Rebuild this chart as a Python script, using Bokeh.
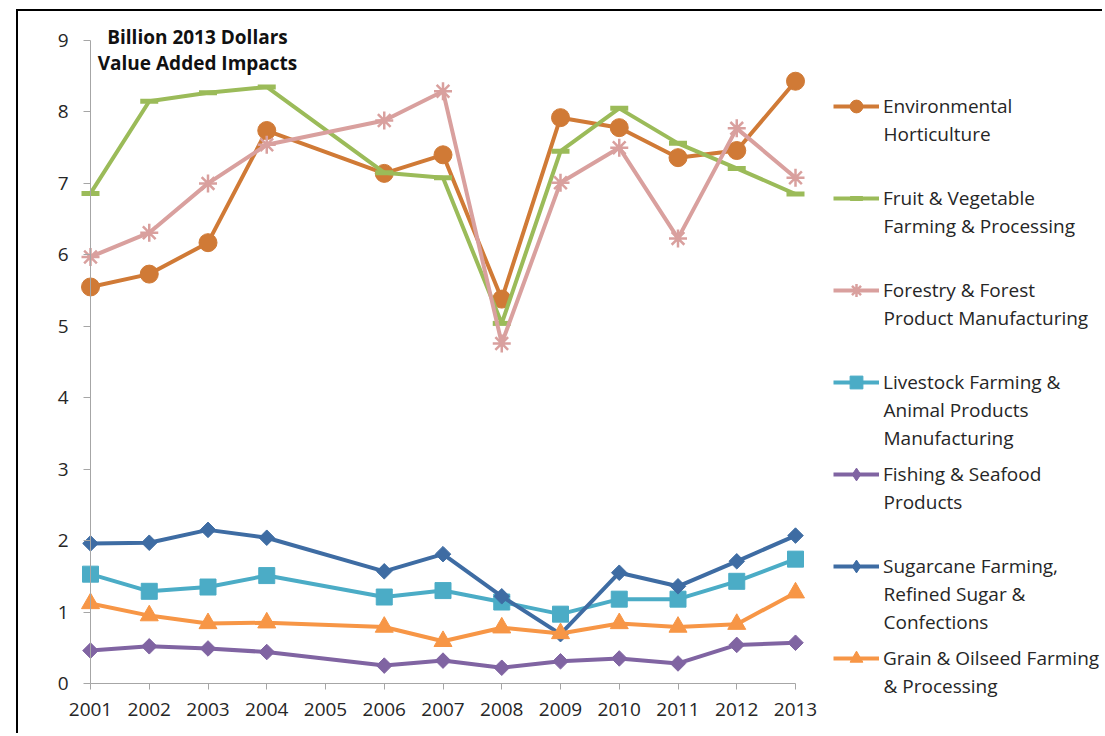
from bokeh.plotting import figure
from bokeh.models import Range1d, FixedTicker, Legend, LegendItem, Label, LinearAxis
from bokeh.embed import file_html
from bokeh.resources import INLINE

# ---------------- data ----------------
tick_years = [2001, 2002, 2003, 2004, 2005, 2006, 2007, 2008, 2009, 2010, 2011, 2012, 2013]
tick_labels = [str(y) for y in tick_years]
y_ticks = [0, 1, 2, 3, 4, 5, 6, 7, 8, 9]
years = [2001, 2002, 2003, 2004, 2006, 2007, 2008, 2009, 2010, 2011, 2012, 2013]

env_hort = [5.55, 5.73, 6.17, 7.74, 7.14, 7.40, 5.38, 7.92, 7.78, 7.36, 7.46, 8.43]
fruit_veg = [6.86, 8.15, 8.27, 8.35, 7.15, 7.08, 5.04, 7.45, 8.05, 7.56, 7.21, 6.85]
forestry = [5.97, 6.31, 7.00, 7.54, 7.88, 8.29, 4.76, 7.01, 7.50, 6.23, 7.77, 7.08]
livestock = [1.53, 1.29, 1.35, 1.51, 1.21, 1.30, 1.14, 0.97, 1.18, 1.18, 1.43, 1.74]
fishing = [0.46, 0.52, 0.49, 0.44, 0.25, 0.32, 0.22, 0.31, 0.35, 0.28, 0.54, 0.57]
sugarcane = [1.96, 1.97, 2.15, 2.04, 1.57, 1.81, 1.22, 0.69, 1.55, 1.36, 1.71, 2.07]
grain = [1.12, 0.95, 0.84, 0.85, 0.79, 0.59, 0.78, 0.70, 0.84, 0.79, 0.83, 1.27]

series_label_lines = [
    ["Environmental", "Horticulture"],
    ["Fruit & Vegetable", "Farming & Processing"],
    ["Forestry & Forest", "Product Manufacturing"],
    ["Livestock Farming &", "Animal Products", "Manufacturing"],
    ["Fishing & Seafood", "Products"],
    ["Sugarcane Farming,", "Refined Sugar &", "Confections"],
    ["Grain & Oilseed Farming", "& Processing"],
]
chart_note = ["Billion 2013 Dollars", "Value Added Impacts"]

FONT = "Open Sans"
PX_X = 58.75    # pixels per year
PX_Y = 71.44    # pixels per billion
FIG_W, FIG_H = 1086, 724
# page position of the figure origin (css margin + border) and of the axes
ORG_X, ORG_Y = 18, 11
X0_PAGE, Y0_PAGE, Y9_PAGE = 90, 683, 40

x_start = 2001 - (X0_PAGE - ORG_X) / PX_X
x_end = x_start + FIG_W / PX_X
y_end = 9 + (Y9_PAGE - ORG_Y) / PX_Y
y_start = y_end - FIG_H / PX_Y

p = figure(width=FIG_W, height=FIG_H, output_backend="svg", toolbar_location=None,
           x_range=Range1d(x_start, x_end), y_range=Range1d(y_start, y_end),
           x_axis_type=None, y_axis_type=None,
           min_border_left=0, min_border_right=0, min_border_top=0, min_border_bottom=0)
p.outline_line_color = None
p.background_fill_color = "white"
p.border_fill_color = "white"
p.styles = {"margin-left": "16px", "margin-top": "9px",
            "border-left": "2px solid black", "border-top": "2px solid black"}

axis_color = "#A6A6A6"
yaxis = LinearAxis(ticker=FixedTicker(ticks=y_ticks), fixed_location=2001, bounds=(0, 9))
yaxis.major_tick_out = 7
yaxis.major_label_standoff = 15
xaxis = LinearAxis(ticker=FixedTicker(ticks=tick_years), fixed_location=0, bounds=(2001, 2013),
                   major_label_overrides={y: l for y, l in zip(tick_years, tick_labels)})
xaxis.major_tick_out = 6
xaxis.major_label_standoff = 14
for ax in (xaxis, yaxis):
    ax.axis_line_color = axis_color
    ax.major_tick_line_color = axis_color
    ax.major_tick_in = 0
    ax.minor_tick_line_color = None
    ax.major_label_text_font = FONT
    ax.major_label_text_font_size = "19px"
    ax.major_label_text_color = "#262626"
p.add_layout(yaxis, "left")
p.add_layout(xaxis, "below")

DIAMOND = dict(marker="square", size=11, angle=0.785398)
specs = [
    (env_hort, "#D07A36", dict(marker="circle", size=18), None),
    (fruit_veg, "#9BBB59", dict(marker="dash", size=18, line_width=5), None),
    (forestry, "#D9A09E", dict(marker="asterisk", size=18, line_width=2.5), None),
    (livestock, "#4BACC6", dict(marker="square", size=16), None),
    (fishing, "#8064A2", DIAMOND, "diamond"),
    (sugarcane, "#3E6CA3", DIAMOND, "diamond"),
    (grain, "#F79646", dict(marker="triangle", size=18), None),
]

items = []
for (vals, color, mk, legend_marker), lines in zip(specs, series_label_lines):
    lr = p.line(years, vals, line_color=color, line_width=4)
    sr = p.scatter(years, vals, fill_color=color, line_color=color, **mk)
    rs = [lr, sr]
    if legend_marker is not None:
        # rotated squares show unrotated in a legend: give the legend a diamond
        # glyph of zero size (invisible in the plot area)
        rs = [lr, p.scatter(years, vals, marker=legend_marker, size=0,
                            fill_color=color, line_color=color)]
    items.append(LegendItem(label=lines[0], renderers=rs))

# legend: one entry every 92 px, first entry centred at page y 106
ITEM_H, PITCH, FIRST_C, LINE_PITCH = 32, 92, 106, 28
GLYPH_LEFT_PAGE = 833
leg_h = len(items) * ITEM_H + (len(items) - 1) * (PITCH - ITEM_H)
leg_bottom_page = FIRST_C - ITEM_H / 2 + leg_h
legend = Legend(items=items,
                location=(GLYPH_LEFT_PAGE - ORG_X, ORG_Y + FIG_H - leg_bottom_page),
                orientation="vertical",
                glyph_width=46, glyph_height=ITEM_H, label_height=ITEM_H,
                label_standoff=4, spacing=PITCH - ITEM_H,
                padding=0, margin=0, border_line_color=None,
                background_fill_alpha=0, label_text_font=FONT,
                label_text_font_size="19px", label_text_color="#262626")
p.add_layout(legend, "center")

# continuation lines of the legend labels
text_x = 2001 + (GLYPH_LEFT_PAGE + 50 - X0_PAGE) / PX_X
for i, lines in enumerate(series_label_lines):
    for k, line in enumerate(lines[1:], start=1):
        page_y = FIRST_C + PITCH * i + LINE_PITCH * k
        p.add_layout(Label(x=text_x, y=(Y0_PAGE - page_y) / PX_Y, text=line,
                           text_font=FONT, text_font_size="19px", text_color="#262626",
                           text_align="left", text_baseline="middle"))

note_x = 2001 + (197 - X0_PAGE) / PX_X
for k, (t, page_y) in enumerate(zip(chart_note, [37, 63])):
    p.add_layout(Label(x=note_x, y=(Y0_PAGE - page_y) / PX_Y, text=t, text_font=FONT,
                       text_font_style="bold", text_font_size="19px",
                       text_align="center", text_baseline="middle", text_color="#111111"))

open("out.html", "w").write(file_html(p, INLINE))
